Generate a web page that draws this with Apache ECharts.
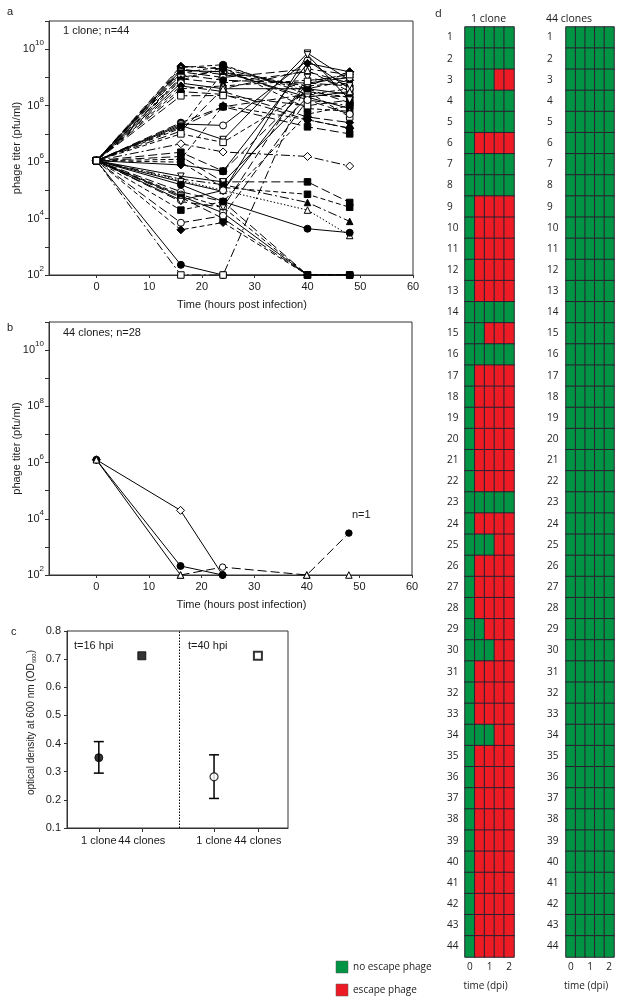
<!DOCTYPE html>
<html><head><meta charset="utf-8">
<script src="https://cdn.jsdelivr.net/npm/echarts@6/dist/echarts.min.js"></script>
<style>html,body{margin:0;padding:0;background:#fff}#c{width:624px;height:1005px}</style>
</head><body><div id="c"></div>
<script>
// ---------------- DATA ----------------
// Panel a: 1 clone, n=44 ; log10 phage titer (pfu/ml)
const timesA = [0, 16, 24, 40, 48];
const inoculumLog = 6.05;
const t16A = [9.40,9.35,9.30,9.25,9.20,9.15,9.10,9.00,8.95,8.90,8.80,8.70,8.60,8.50,8.35,7.40,7.35,7.30,7.25,7.20,7.10,7.00,6.65,6.35,6.20,6.10,6.00,5.90,5.50,5.40,5.35,5.30,5.20,4.95,4.85,4.80,4.75,4.65,4.60,4.30,3.85,3.60,2.36,2.00];
const t24A = [9.30,9.45,9.10,9.20,9.00,9.40,8.90,9.25,8.80,9.35,8.60,8.50,8.70,8.40,8.36,7.96,7.30,6.80,7.96,9.20,8.60,6.70,6.36,5.68,5.30,8.00,5.10,5.68,5.30,5.20,5.00,4.96,4.60,4.60,4.40,4.20,4.00,5.00,4.40,4.60,4.10,3.86,2.00,2.00];
const t40A = [8.60,8.40,8.70,8.30,9.30,8.50,8.80,8.20,9.20,7.90,8.60,7.60,8.90,7.50,8.00,8.40,9.60,9.86,7.25,8.70,9.25,8.50,6.20,8.60,5.30,7.50,4.86,9.50,8.30,4.57,4.30,9.80,3.64,2.00,2.00,2.00,2.00,8.80,9.00,7.70,8.20,2.00,2.00,8.86];
const t48A = [8.90,8.60,9.20,8.50,9.10,8.30,8.70,8.00,8.80,7.80,8.40,7.40,9.00,7.20,8.20,8.30,8.60,8.90,7.00,8.80,8.50,7.60,5.86,8.10,4.57,7.20,4.40,9.20,7.90,3.90,3.40,8.20,3.50,2.00,2.00,2.00,2.00,9.00,8.70,8.00,7.70,2.00,2.00,9.10];
const markerA = ['fd','fc','od','fs','oc','fv','fc','os','fu','fs','oc','fd','ou','fc','os','fc','oc','ov','fs','fv','ou','os','od','fs','fs','fd','fs','fd','ov','fu','ou','ov','fc','oc','oc','os','fs','oc','ov','fs','oc','fd','fc','os'];
const dashA = ['L','d','L','s','L','d','L','x','L','d','s','L','d','L','L','L','s','s','L','d','L','d','x','L','L','d','d','s','s','x','o','s','s','L','d','s','L','s','L','d','L','d','s','x'];

// Panel b: 44 clones, n=28 ; log10 phage titer
const timesB = [0, 16, 24, 40, 48];
const b1 = [6.10, 4.30, 2.00, null, null];
const b2 = [6.10, 2.32, 2.00, null, null];
const b3 = [6.10, 2.00, null, null, null];
const b4 = [null, 2.00, 2.28, 2.00, 3.49];
const b5 = [null, null, null, 2.00, 2.00];

// Panel c: optical density at 600 nm
const catPosC = [0.74, 1.74, 3.42, 4.44];
const catLabelC = ['1 clone', '44 clones', '1 clone', '44 clones'];
const odMeanC = [0.350, 0.712, 0.282, 0.712];
const odLowC = [0.295, null, 0.205, null];
const odHighC = [0.407, null, 0.360, null];
const dividerC = 2.6;

// Panel d: escape phage (1) / no escape phage (0), 5 time columns per population
const colsD = ['0', '', '1', '', '2'];
const rowsD = ['1','2','3','4','5','6','7','8','9','10','11','12','13','14','15','16','17','18','19','20','21','22','23','24','25','26','27','28','29','30','31','32','33','34','35','36','37','38','39','40','41','42','43','44'];
const oneCloneD = ['00000','00000','00011','00000','00000','01111','00000','00000','01111','01111','01111','01111','01111','00000','00111','00000','01111','01111','01111','01111','01111','01111','00000','01111','00011','01111','01111','01111','00111','00011','01111','01111','01111','00011','01111','01111','01111','01111','01111','01111','01111','01111','01111','01111'];
const fortyFourD = ['00000','00000','00000','00000','00000','00000','00000','00000','00000','00000','00000','00000','00000','00000','00000','00000','00000','00000','00000','00000','00000','00000','00000','00000','00000','00000','00000','00000','00000','00000','00000','00000','00000','00000','00000','00000','00000','00000','00000','00000','00000','00000','00000','00000'];

// ---------------- STYLE HELPERS ----------------
const FONT = 'Liberation Sans';
const TXT = '#1a1a1a';
const AX = '#333';
const GREEN = '#009444', RED = '#ED1C24';
const dashMap = {s:'solid', L:[9,4], d:[5,3], x:[9,3,2,3], o:[1.5,2]};
function sym(code) {
  const filled = code[0] === 'f';
  const shape = {c:'circle', s:'rect', d:'diamond', u:'triangle', v:'triangle'}[code[1]];
  return {
    symbol: shape,
    symbolRotate: code[1] === 'v' ? 180 : 0,
    symbolSize: code[1] === 'd' ? 8 : (code[1] === 'c' ? 7 : 6.5),
    itemStyle: {color: filled ? '#000' : '#fff', borderColor: '#000', borderWidth: 1}
  };
}
const pow = v => (v === null ? null : Math.pow(10, v));

function timeX(gi) {
  return {
    type:'value', gridIndex: gi, min: -9, max: 60,
    axisLine:{show:true, onZero:false, lineStyle:{color:AX, width:1}},
    axisTick:{show:true, length:3, customValues:[0,10,20,30,40,50,60], lineStyle:{color:AX}},
    axisLabel:{customValues:[0,10,20,30,40,50,60], margin:6, fontSize:11, fontFamily:FONT, color:TXT},
    splitLine:{show:false},
    name:'Time (hours post infection)', nameLocation:'middle', nameGap:24, nameMoveOverlap:false,
    nameTextStyle:{fontSize:11, fontFamily:FONT, color:TXT, padding:[0,0,0,22]}
  };
}
function titerY(gi) {
  return {
    type:'log', logBase:10, gridIndex: gi, min:100, max:1e11, splitNumber:9,
    axisLine:{show:true, onZero:false, lineStyle:{color:AX, width:1}},
    axisTick:{show:true, length:4, lineStyle:{color:AX}},
    axisLabel:{
      margin:5, fontFamily:FONT, color:TXT,
      formatter: v => { const e = Math.round(Math.log10(v)); return (e % 2 === 0 && e <= 10) ? '{b|10}{s|' + e + '}' : ''; },
      rich:{ b:{fontSize:11, fontFamily:FONT, color:TXT}, s:{fontSize:8, fontFamily:FONT, color:TXT, padding:[0,0,12,0]} }
    },
    splitLine:{show:false}, minorTick:{show:false},
    name:'phage titer (pfu/ml)', nameLocation:'middle', nameGap:27, nameRotate:90, nameMoveOverlap:false,
    nameTextStyle:{fontSize:11, fontFamily:FONT, color:TXT}
  };
}

// ---------------- SERIES ----------------
const series = [];
// Panel a
for (let i = 0; i < t16A.length; i++) {
  const logs = [inoculumLog, t16A[i], t24A[i], t40A[i], t48A[i]];
  const s = sym(markerA[i]);
  series.push(Object.assign({
    type:'line', xAxisIndex:0, yAxisIndex:0, z: 3,
    data: timesA.map((t, j) => [t, pow(logs[j])]),
    lineStyle:{color:'#000', width:1, type: dashMap[dashA[i]]},
    showAllSymbol:true, animation:false
  }, s));
}
// Panel b
function bSeries(vals, code, dash, overrides) {
  const s = sym(code);
  series.push(Object.assign({
    type:'line', xAxisIndex:1, yAxisIndex:1, z:3,
    data: timesB.map((t, j) => {
      if (vals[j] === null) return [t, null];
      const o = overrides && overrides[j];
      if (o) { const so = sym(o); return {value:[t, pow(vals[j])], symbol: so.symbol, symbolRotate: so.symbolRotate, itemStyle: so.itemStyle}; }
      return [t, pow(vals[j])];
    }),
    lineStyle: dash ? {color:'#000', width:1, type: dashMap[dash]} : {opacity:0},
    connectNulls:false, showAllSymbol:true, animation:false
  }, s));
}
bSeries(b1, 'od', 's');
bSeries(b2, 'fc', 's');
bSeries(b3, 'ou', 's');
bSeries(b4, 'ou', 'L', {2:'oc', 4:'fc'});
bSeries(b5, 'ou', null);

// Panel c
const errData = [];
for (let i = 0; i < catPosC.length; i++) if (odLowC[i] !== null) errData.push([catPosC[i], odLowC[i], odHighC[i]]);
series.push({
  type:'custom', xAxisIndex:2, yAxisIndex:2, z:2, animation:false,
  data: errData, encode:{x:0, y:[1,2]},
  renderItem: (params, api) => {
    const x = api.value(0);
    const p1 = api.coord([x, api.value(1)]), p2 = api.coord([x, api.value(2)]);
    const w = 5, st = {stroke:'#000', lineWidth:1.5};
    return {type:'group', children:[
      {type:'line', shape:{x1:p1[0], y1:p1[1], x2:p2[0], y2:p2[1]}, style:st},
      {type:'line', shape:{x1:p1[0]-w, y1:p1[1], x2:p1[0]+w, y2:p1[1]}, style:st},
      {type:'line', shape:{x1:p2[0]-w, y1:p2[1], x2:p2[0]+w, y2:p2[1]}, style:st}
    ]};
  }
});
const cSym = [
  {symbol:'circle', symbolSize:8, itemStyle:{color:'#000', borderColor:'#000', borderWidth:1}},
  {symbol:'rect', symbolSize:8, itemStyle:{color:'#000', borderColor:'#000', borderWidth:1}},
  {symbol:'circle', symbolSize:8, itemStyle:{color:'#fff', borderColor:'#000', borderWidth:1.2}},
  {symbol:'rect', symbolSize:8, itemStyle:{color:'#fff', borderColor:'#000', borderWidth:2}}
];
series.push({
  type:'scatter', xAxisIndex:2, yAxisIndex:2, z:3, animation:false,
  data: catPosC.map((x, i) => Object.assign({value:[x, odMeanC[i]]}, cSym[i])),
  markLine:{silent:true, symbol:['none','none'], label:{show:false}, animation:false,
    lineStyle:{type:[1.5,1.5], color:'#000', width:1}, data:[{xAxis: dividerC}]}
});

// Panel d
function heat(rows, xi) {
  const data = [];
  rows.forEach((r, ri) => { for (let c = 0; c < r.length; c++) {
    const v = +r[c];
    data.push({value:[c, ri, v], itemStyle:{color: v ? RED : GREEN}});
  }});
  series.push({type:'heatmap', xAxisIndex:xi, yAxisIndex:xi, data, animation:false,
    itemStyle:{borderColor:'#2a2030', borderWidth:1}, emphasis:{disabled:true}});
}
heat(oneCloneD, 3);
heat(fortyFourD, 4);

function dX(gi) {
  return {type:'category', gridIndex:gi, data:colsD,
    axisLine:{show:false}, axisTick:{show:false}, splitLine:{show:false},
    axisLabel:{interval:0, margin:5, fontSize:10, fontFamily:'Open Sans', color:'#222'},
    name:'time (dpi)', nameLocation:'middle', nameGap:24, nameMoveOverlap:false,
    nameTextStyle:{fontSize:10, fontFamily:'Open Sans', color:'#222', padding:[0,8,0,0]}};
}
function dY(gi, margin) {
  return {type:'category', gridIndex:gi, data:rowsD, inverse:true,
    axisLine:{show:false}, axisTick:{show:false}, splitLine:{show:false},
    axisLabel:{interval:0, margin:margin, align:'left', fontSize:10, fontFamily:'Open Sans', color:'#222'}};
}

const gridBase = {show:true, borderColor:AX, borderWidth:1, backgroundColor:'transparent', containLabel:false, outerBoundsMode:'none'};
const option = {
  animation:false,
  backgroundColor:'#fff',
  textStyle:{fontFamily:FONT},
  grid:[
    Object.assign({left:49, top:21, width:364, height:254}, gridBase),
    Object.assign({left:49, top:322, width:363, height:253}, gridBase),
    Object.assign({left:67, top:631, width:221, height:197}, gridBase),
    {left:465, top:27, width:49, height:930, containLabel:false, outerBoundsMode:'none'},
    {left:566, top:27, width:48, height:930, containLabel:false, outerBoundsMode:'none'}
  ],
  xAxis:[
    timeX(0), timeX(1),
    {type:'value', gridIndex:2, min:0, max:5.14,
      axisLine:{show:true, onZero:false, lineStyle:{color:AX}},
      axisTick:{show:true, length:4, customValues:catPosC, lineStyle:{color:AX}},
      axisLabel:{customValues:catPosC, margin:7, fontSize:11, fontFamily:FONT, color:TXT,
        formatter: v => { const k = catPosC.findIndex(p => Math.abs(p - v) < 1e-6); return k >= 0 ? catLabelC[k] : ''; }},
      splitLine:{show:false}},
    dX(3), dX(4)
  ],
  yAxis:[
    titerY(0), titerY(1),
    {type:'value', gridIndex:2, min:0.1, max:0.8, interval:0.1,
      axisLine:{show:true, onZero:false, lineStyle:{color:AX}},
      axisTick:{show:true, length:3, lineStyle:{color:AX}},
      axisLabel:{margin:6, fontSize:11, fontFamily:FONT, color:TXT, formatter: v => v.toFixed(1)},
      splitLine:{show:false},
      name:'optical density at 600 nm (OD{sub|600})', nameLocation:'middle', nameGap:30, nameRotate:90, nameMoveOverlap:false,
      nameTextStyle:{fontSize:10, fontFamily:FONT, color:TXT, padding:[0,0,0,14],
        rich:{sub:{fontSize:6, fontFamily:FONT, color:TXT, padding:[6,0,0,0]}}}},
    dY(3, 18), dY(4, 19)
  ],
  series,
  graphic:[
    txt('a', 7, 12, 11), txt('1 clone; n=44', 63, 31, 11),
    txt('b', 7, 328, 11), txt('44 clones; n=28', 63, 333, 11), txt('n=1', 352, 515, 11),
    txt('c', 11, 632, 11), txt('t=16 hpi', 74, 646, 11), txt('t=40 hpi', 188, 646, 11),
    txt('d', 435, 14, 11, 'Open Sans'), txt('1 clone', 471, 19, 10.5, 'Open Sans'), txt('44 clones', 546, 19, 10.5, 'Open Sans'),
    {type:'rect', shape:{x:336, y:961, width:12, height:12}, style:{fill:GREEN, stroke:'#555', lineWidth:0.5}},
    {type:'rect', shape:{x:336, y:984, width:12, height:12}, style:{fill:RED, stroke:'#555', lineWidth:0.5}},
    txt('no escape phage', 353, 967, 10, 'Open Sans'), txt('escape phage', 353, 990, 10, 'Open Sans')
  ]
};
function txt(t, x, y, size, fam) {
  return {type:'text', x, y, z:10, style:{text:t, fill:TXT, font: size + 'px "' + (fam || FONT) + '"',
    textAlign:'left', align:'left', textVerticalAlign:'middle', verticalAlign:'middle'}};
}
const chart = echarts.init(document.getElementById('c'), null, {width:624, height:1005});
chart.setOption(option);
</script></body></html>
